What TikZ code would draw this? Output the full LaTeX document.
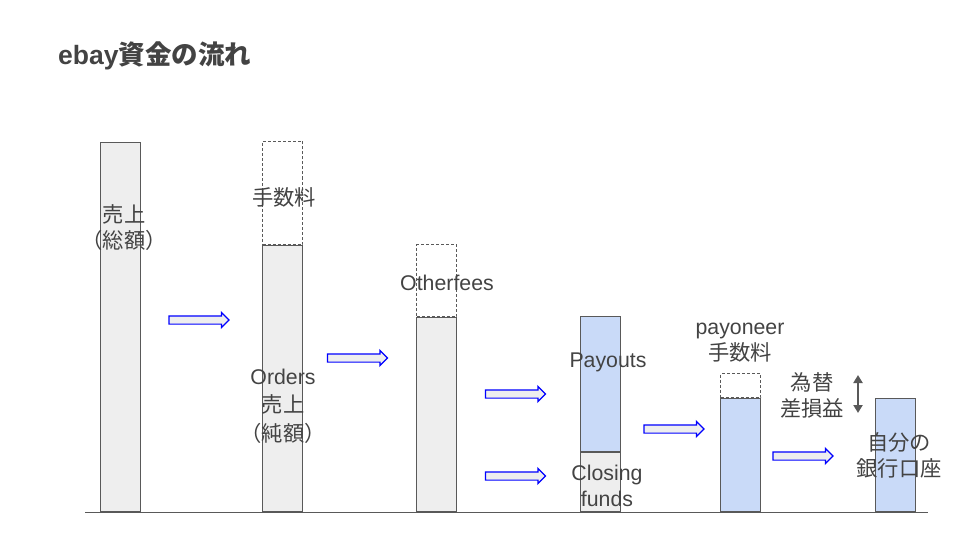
\documentclass[tikz,border=0pt]{standalone}
\usepackage{fontspec}
\setmainfont{Liberation Sans}
\newfontfamily\jp{Noto Sans CJK JP}
\usetikzlibrary{positioning,shapes.arrows,arrows.meta}
\definecolor{txtgray}{HTML}{434343}
\definecolor{edgegray}{HTML}{595959}
\definecolor{barfill}{HTML}{EEEEEE}
\definecolor{bluefill}{HTML}{C9DAF8}

\begin{document}
\begin{tikzpicture}[
        x=1pt, y=-1pt,
        bar/.style={
                draw=edgegray,
                fill=barfill,
                line width=1pt,
                minimum width=40pt,
                inner sep=0pt,
                anchor=south west
            },
        paid/.style={bar, fill=bluefill},
        fee/.style={bar, fill=white, dash pattern=on 3pt off 2pt},
        txt/.style={text=txtgray, font=\fontsize{21.3}{26}\selectfont, align=center, inner sep=0pt},
        flow/.style={
                single arrow,
                draw=blue,
                fill=barfill,
                line width=1.2pt,
                inner xsep=0pt,
                inner ysep=3.5pt,
                single arrow head extend=3.5pt,
                minimum height=60pt
            }
    ]
    \useasboundingbox (0,0) rectangle (960,540);
    \node[anchor=west, text=txtgray, font=\fontsize{26.5}{30}\selectfont\bfseries, inner sep=0pt] (title) at (58,56) {ebay{\jp 資金の流れ}};

    \coordinate (axisL) at (85,512);
    \coordinate (axisR) at (928,512);
    \draw[edgegray, line width=1pt] (axisL) -- (axisR);

    \node[bar, minimum height=369pt] (gross) at (100,512) {};
    \node[bar, minimum height=266pt] (net) at (262,512) {};
    \node[fee, minimum height=103pt, above=0pt of net] (ebayfee) {};
    \node[bar, minimum height=194pt] (afterother) at (416,512) {};
    \node[fee, minimum height=72pt, above=0pt of afterother] (otherfee) {};
    \node[bar, minimum height=59pt] (closing) at (580,512) {};
    \node[paid, minimum height=135pt, above=0pt of closing] (payouts) {};
    \node[paid, minimum height=113pt] (received) at (720,512) {};
    \node[fee, minimum height=24pt, above=0pt of received] (pyfee) {};
    \node[paid, minimum height=113pt] (bank) at (875,512) {};

    \node[txt] (grosstxt) at (124,228) {{\jp 売上}\\{\jp （総額）}};
    \node[txt] (ebayfeetxt) at (284,197) {\jp 手数料};
    \node[txt, font=\fontsize{21.3}{28.5}\selectfont] (nettxt) at (283,406) {Orders\\{\jp 売上}\\{\jp （純額）}};
    \node[txt] (otherfeetxt) at (447,283) {Otherfees};
    \node[txt] (payoutstxt) at (608,362) {Payouts};
    \node[txt] (closingtxt) at (607,486) {Closing\\funds};
    \node[txt] (pyfeetxt) at (740,343) {payoneer\\{\jp 手数料}};
    \node[txt] (fxtxt) at (812,395) {{\jp 為替}\\{\jp 差損益}};
    \node[txt] (banktxt) at (899,455) {{\jp 自分の}\\{\jp 銀行口座}};

    \node[flow] (flow1) at (197,320) {};
    \node[flow] (flow2) at (355.5,358) {};
    \node[flow] (flow3) at (513.5,394) {};
    \node[flow] (flow4) at (513.5,476) {};
    \node[flow] (flow5) at (672,429) {};
    \node[flow] (flow6) at (801,456) {};

    \coordinate (fxtop) at (858,375);
    \coordinate (fxbot) at (858,413);
    \draw[edgegray, line width=2pt, {Triangle[width=9pt,length=8pt]}-{Triangle[width=9pt,length=8pt]}] (fxtop) -- (fxbot);
\end{tikzpicture}
\end{document}
